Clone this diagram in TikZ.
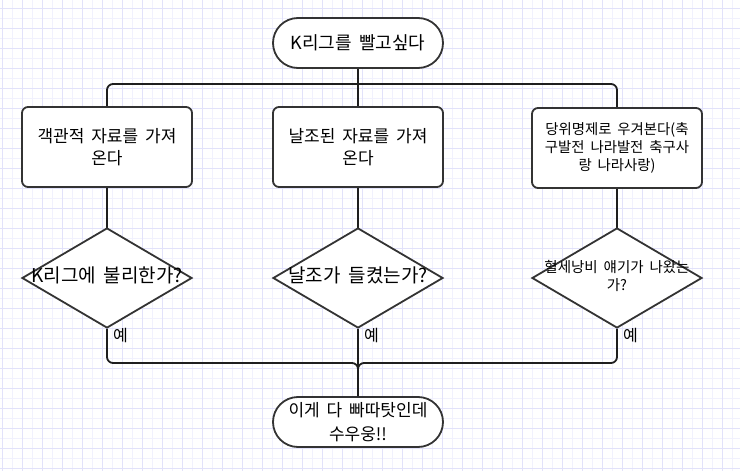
\documentclass[tikz,border=0pt]{standalone}
\usepackage{fontspec}
\newfontfamily\kr[WordSpace=1.8]{Noto Sans CJK KR}
\usetikzlibrary{shapes.geometric}
\definecolor{gridminor}{RGB}{241,241,253}
\definecolor{gridmajor}{RGB}{226,226,250}
\definecolor{edgegray}{RGB}{30,30,30}
\definecolor{shapegray}{RGB}{51,51,51}
\newcommand{\ztext}[1]{\makebox[0pt]{\begin{tabular}{@{}c@{}}#1\end{tabular}}}

\begin{document}
\begin{tikzpicture}[x=1pt, y=-1pt,
    every node/.style={font=\kr, text=black},
    term/.style={draw=shapegray, line width=1.8pt, fill=white, rounded corners=25pt, minimum width=170pt, minimum height=50pt, inner sep=0pt, align=center},
    proc/.style={draw=shapegray, line width=1.8pt, fill=white, rounded corners=6pt, minimum width=170pt, minimum height=80pt, inner sep=0pt, align=center},
    cond/.style={diamond, draw=shapegray, line width=1.8pt, fill=white, minimum width=170pt, minimum height=100pt, inner sep=0pt},
    link/.style={draw=edgegray, line width=1.8pt, rounded corners=6pt},
    yes/.style={font=\kr\fontsize{16}{18}\selectfont, anchor=west, inner sep=0pt}]
            \useasboundingbox (0,0) rectangle (740,471);
            \fill[white] (0,0) rectangle (740,471);
            \foreach \gx in {0,...,36} {\draw[gridminor, line width=0.8pt] ({12.7+20*\gx},0) -- ++(0,471);}
            \foreach \gy in {0,...,23} {\draw[gridminor, line width=0.8pt] (0,{18.3+20*\gy}) -- ++(740,0);}
            \foreach \gx in {0,...,36} {\draw[gridmajor, line width=0.8pt] ({2.7+20*\gx},0) -- ++(0,471);}
            \foreach \gy in {0,...,23} {\draw[gridmajor, line width=0.8pt] (0,{8.3+20*\gy}) -- ++(740,0);}

            \coordinate (split) at (358,84);
            \coordinate (merge) at (358,363);

            \draw[link] (split) -| (107,108);
            \draw[link] (split) -| (617,108);
            \draw[link] (358,68) -- (358,108);
            \draw[link] (107,188) -- (107,228);
            \draw[link] (358,188) -- (358,228);
            \draw[link] (617,188) -- (617,228);

            \node[term, font=\kr\fontsize{18}{22}\selectfont] (start) at (358,43) {K리그를 빨고싶다};
            \node[proc, font=\kr\fontsize{17}{22}\selectfont] (get1) at (107,147) {객관적 자료를 가져\\온다};
            \node[proc, font=\kr\fontsize{17}{22}\selectfont] (get2) at (358,147) {날조된 자료를 가져\\온다};
            \node[proc, font=\kr\fontsize{14.4}{18}\selectfont] (get3) at (617,148) {당위명제로 우겨본다(축\\구발전 나라발전 축구사\\랑 나라사랑)};
            \node[cond, font=\kr\fontsize{19}{22}\selectfont] (ask1) at (107,278) {\ztext{K리그에 불리한가?}};
            \node[cond, font=\kr\fontsize{19}{22}\selectfont] (ask2) at (358,278) {\ztext{날조가 들켰는가?}};
            \node[cond, font=\kr\fontsize{14.5}{17}\selectfont] (ask3) at (617,278) {\ztext{혈세낭비 얘기가 나왔는\\가?}};
            \node[term, font=\kr\fontsize{17}{24}\selectfont] (end) at (358,422) {이게 다 빠따탓인데\\수우웅!!};

            \draw[link] (ask1.south) |- (merge) -- (end.north);
            \draw[link] (ask3.south) |- (merge) -- (end.north);
            \draw[link] (ask2.south) -- (end.north);

            \node[yes] (yes1) at (113,336) {예};
            \node[yes] (yes2) at (364,336) {예};
            \node[yes] (yes3) at (623,336) {예};
        \end{tikzpicture}
\end{document}
